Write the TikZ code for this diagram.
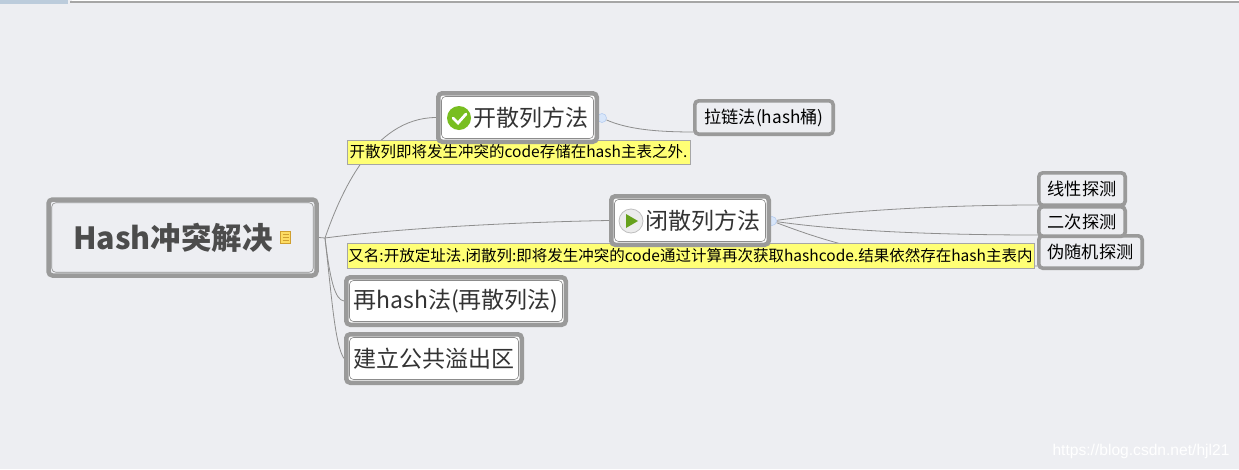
\documentclass[tikz,border=0pt]{standalone}
\usepackage{fontspec}
\setmainfont{Noto Sans CJK SC}
\newfontfamily\markfont{Liberation Sans}
\usetikzlibrary{positioning, calc}
\definecolor{bgc}{HTML}{EDEEF2}
\definecolor{bord}{HTML}{9A9A9A}
\definecolor{lnk}{HTML}{8E8E8E}
\definecolor{notec}{HTML}{FFFF75}
\definecolor{icgreen}{HTML}{78BE20}
\definecolor{hubf}{HTML}{D8E6FA}
\definecolor{hubd}{HTML}{B4CCF0}
\definecolor{stripc}{HTML}{BCCCDC}
\pgfdeclarelayer{lnl}
\pgfdeclarelayer{ntl}
\pgfsetlayers{lnl,ntl,main}
\tikzset{
  tpc/.style = {draw=bord, fill=white, line width=4.5pt, rounded corners=4pt,
    inner sep=0pt, outer sep=2.25pt, text=black!80, font=\fontsize{23}{26}\selectfont},
  roottpc/.style = {tpc, fill=bgc, text=black!70, font=\fontsize{30.5}{34}\selectfont\bfseries},
  subtpc/.style = {tpc, fill=bgc, line width=3.6pt, outer sep=1.8pt, text=black,
    font=\fontsize{17.2}{20}\selectfont},
  inln/.style = {draw=black!45, line width=0.6pt, rounded corners=4pt},
  notebx/.style = {draw=black!35, fill=notec, line width=0.6pt, inner sep=0pt,
    outer sep=0pt, text=black, font=\fontsize{15.5}{18}\selectfont},
  lk/.style = {draw=lnk, line width=0.8pt},
  hubc/.style = {circle, draw=hubd, fill=hubf, line width=0.6pt,
    minimum size=9pt, inner sep=0pt},
  icn/.style = {circle, inner sep=0pt, minimum size=24pt}
}
\begin{document}
\begin{tikzpicture}[x=1pt, y=-1pt]
  \useasboundingbox (0,0) rectangle (1239,469);
  \begin{pgfonlayer}{lnl}
    \fill [bgc] (0,0) rectangle (1239,469);
    \fill [stripc] (0,0) rectangle (68,4);
    \fill [white] (72,0) rectangle (1239,1);
    \fill [gray!70] (70,1) rectangle (1239,2.5);
  \end{pgfonlayer}
  % punti di snodo
  \coordinate (hb) at (325,238);
  \node [hubc] (ho) at (602,118) {};
  \node [hubc] (hc) at (772,221) {};
  \coordinate (chin) at (694,132);
  \coordinate (l1in) at (1038,205);
  \coordinate (l2in) at (1038,235);
  \coordinate (l3in) at (1038,266);
  % note e argomenti
  \begin{pgfonlayer}{ntl}
    \node [notebx, minimum width=343pt, minimum height=24pt] (n1) at (518.5,152) {开散列即将发生冲突的code存储在hash主表之外.};
    \node [notebx, minimum width=687pt, minimum height=25pt] (n2) at (690.5,256) {又名:开放定址法.闭散列:即将发生冲突的code通过计算再次获取hashcode.结果依然存在hash主表内};
  \end{pgfonlayer}
  \node [roottpc, minimum width=268pt, minimum height=76pt] (root) at (182.5,237.5) {Hash冲突解决\hspace*{19pt}};
  \node [tpc, minimum width=158.5pt, minimum height=48.5pt] (op) at (517.5,117.5) {\hspace{26pt}开散列方法};
  \node [tpc, minimum width=157.5pt, minimum height=48.5pt] (cl) at (690,220.5) {\hspace{26pt}闭散列方法};
  \node [tpc, minimum width=219.5pt, minimum height=47.5pt] (re) at (456,301) {再hash法(再散列法)};
  \node [tpc, minimum width=175.5pt, minimum height=48.5pt] (pb) at (434,358.5) {建立公共溢出区};
  \node [subtpc, minimum width=138.4pt, minimum height=33.4pt] (ch) at (764,117.5) {拉链法(hash桶)};
  \node [subtpc, minimum width=103.4pt, minimum height=32.4pt] (l3) at (1090.5,252) {伪随机探测};
  \node [subtpc, minimum width=86.4pt, minimum height=29.4pt] (l2) at (1082,221.5) {二次探测};
  \node [subtpc, minimum width=86.4pt, minimum height=32.4pt] (l1) at (1082,189) {线性探测};
  \foreach \n in {root, op, cl, re, pb}
    \draw [inln] ([shift={(5.5,5.5)}]\n.north west) rectangle ([shift={(-5.5,-5.5)}]\n.south east);
  % connessioni
  \begin{pgfonlayer}{lnl}
    \draw [lk] (root.east) -- (hb);
    \draw [lk] (hb) .. controls (340,195) and (372,118) .. (op.west);
    \draw [lk] (hb) .. controls (400,228) and (520,222) .. (cl.west);
    \draw [lk] (hb) .. controls (330,280) and (335,300) .. (re.west);
    \draw [lk] (hb) .. controls (332,300) and (335,345) .. (pb.west);
    \draw [lk] (op.east) -- (ho);
    \draw [lk] (cl.east) -- (hc);
    \draw [lk] (ho) .. controls (625,128) and (650,132) .. (chin);
    \draw [lk] (hc) .. controls (850,210) and (950,205) .. (l1in);
    \draw [lk] (hc) .. controls (850,232) and (950,235) .. (l2in);
    \draw [lk] (hc) .. controls (830,243) and (900,266) .. (l3in);
  \end{pgfonlayer}
  % icone
  \node [icn, fill=icgreen] (ic1) at (459,118) {};
  \draw [white, line width=2.8pt, line cap=round] (453,118) -- (458,123) -- (466,114);
  \node [icn, fill=gray!15, draw=gray!50, line width=0.8pt] (ic2) at (631,221) {};
  \fill [icgreen!85!black] (626,214) -- (638,221) -- (626,228) -- cycle;
  \node [draw=brown!75!yellow, fill=yellow!60!orange!60, line width=1pt, minimum width=10pt, minimum height=12pt, inner sep=0pt] (ic3) at (285.5,237.5) {};
  \foreach \y in {234,237,240}
    \draw [brown!75!yellow, line width=0.7pt] (282.5,\y) -- (288.5,\y);
  \node [text=white, font=\markfont\fontsize{15.6}{18}\selectfont] (wm) at (1141,451) {https://blog.csdn.net/hjl21};
\end{tikzpicture}
\end{document}
